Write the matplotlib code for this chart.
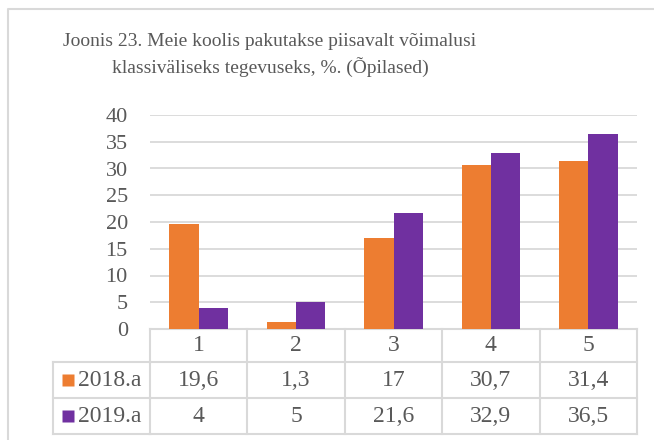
import matplotlib
matplotlib.use("Agg")
import matplotlib.pyplot as plt
from matplotlib import transforms
import numpy as np

categories = ["1", "2", "3", "4", "5"]
series_names = ["2018.a", "2019.a"]
values_2018 = [19.6, 1.3, 17, 30.7, 31.4]
values_2019 = [4, 5, 21.6, 32.9, 36.5]
labels_2018 = ["19,6", "1,3", "17", "30,7", "31,4"]
labels_2019 = ["4", "5", "21,6", "32,9", "36,5"]
yticks = [0, 5, 10, 15, 20, 25, 30, 35, 40]

title = "Joonis 23. Meie koolis pakutakse piisavalt võimalusi\nklassiväliseks tegevuseks, %. (Õpilased)"

c18 = "#ED7D31"
c19 = "#7030A0"
grid_c = "#D9D9D9"
txt_c = "#595959"

plt.rcParams["font.family"] = ["Liberation Serif", "DejaVu Serif"]

W, H = 654, 440
fig = plt.figure(figsize=(W / 100, H / 100), dpi=100)

# pixel layout
px_l, px_r, px_t, px_b = 150, 637, 115, 329
ax = fig.add_axes([px_l / W, (H - px_b) / H, (px_r - px_l) / W, (px_b - px_t) / H])
ov = fig.add_axes([0, 0, 1, 1], zorder=-1)
ov.set_xlim(0, W)
ov.set_ylim(H, 0)
ov.axis("off")

x = np.arange(len(categories))
bw = 0.3
ax.bar(x - bw / 2, values_2018, bw, color=c18, zorder=3)
ax.bar(x + bw / 2, values_2019, bw, color=c19, zorder=3)
ax.set_xlim(-0.5, len(categories) - 0.5)
ax.set_ylim(0, 40)
ax.set_yticks(yticks)
ax.set_yticklabels([str(t) for t in yticks], fontsize=16, color=txt_c)
ax.tick_params(axis="y", length=0, pad=16)
ax.set_xticks([])
ax.yaxis.grid(True, color=grid_c, lw=1.3, zorder=0)
ax.set_axisbelow(True)
for s in ax.spines.values():
    s.set_visible(False)
ax.patch.set_alpha(0)

# title
ov.text(270, 55, title, ha="center", va="center", multialignment="center",
        fontsize=14, color=txt_c, linespacing=1.45)

# outer chart border
ov.plot([8, 8, W], [H, 9, 9], color=grid_c, lw=1.5, clip_on=False)

# data table
bt = transforms.blended_transform_factory(ax.transData, ov.transData)
rows_y = [329, 362, 398, 434]
n = len(categories)
lw = 1.5
for yy in rows_y:
    ov.plot([-0.5, n - 0.5], [yy, yy], transform=bt, color=grid_c, lw=lw, clip_on=False)
for i in range(n + 1):
    ov.plot([i - 0.5, i - 0.5], [rows_y[0], rows_y[-1]], transform=bt, color=grid_c, lw=lw, clip_on=False)
for yy in rows_y[1:]:
    ov.plot([53, 150], [yy, yy], color=grid_c, lw=lw)
ov.plot([53, 53], [rows_y[1], rows_y[3]], color=grid_c, lw=lw)

fs = 17
for i, c in enumerate(categories):
    ov.text(i, (rows_y[0] + rows_y[1]) / 2, c, transform=bt, ha="center", va="center", fontsize=fs, color=txt_c)
    ov.text(i, (rows_y[1] + rows_y[2]) / 2, labels_2018[i], transform=bt, ha="center", va="center", fontsize=fs, color=txt_c)
    ov.text(i, (rows_y[2] + rows_y[3]) / 2, labels_2019[i], transform=bt, ha="center", va="center", fontsize=fs, color=txt_c)

for k, (name, col) in enumerate(zip(series_names, [c18, c19])):
    yc = (rows_y[1 + k] + rows_y[2 + k]) / 2
    ov.plot([68], [yc], marker="s", ms=9, color=col, mec="none")
    ov.text(78, yc, name, ha="left", va="center", fontsize=fs, color=txt_c)

fig.savefig("out.png", dpi=100)
